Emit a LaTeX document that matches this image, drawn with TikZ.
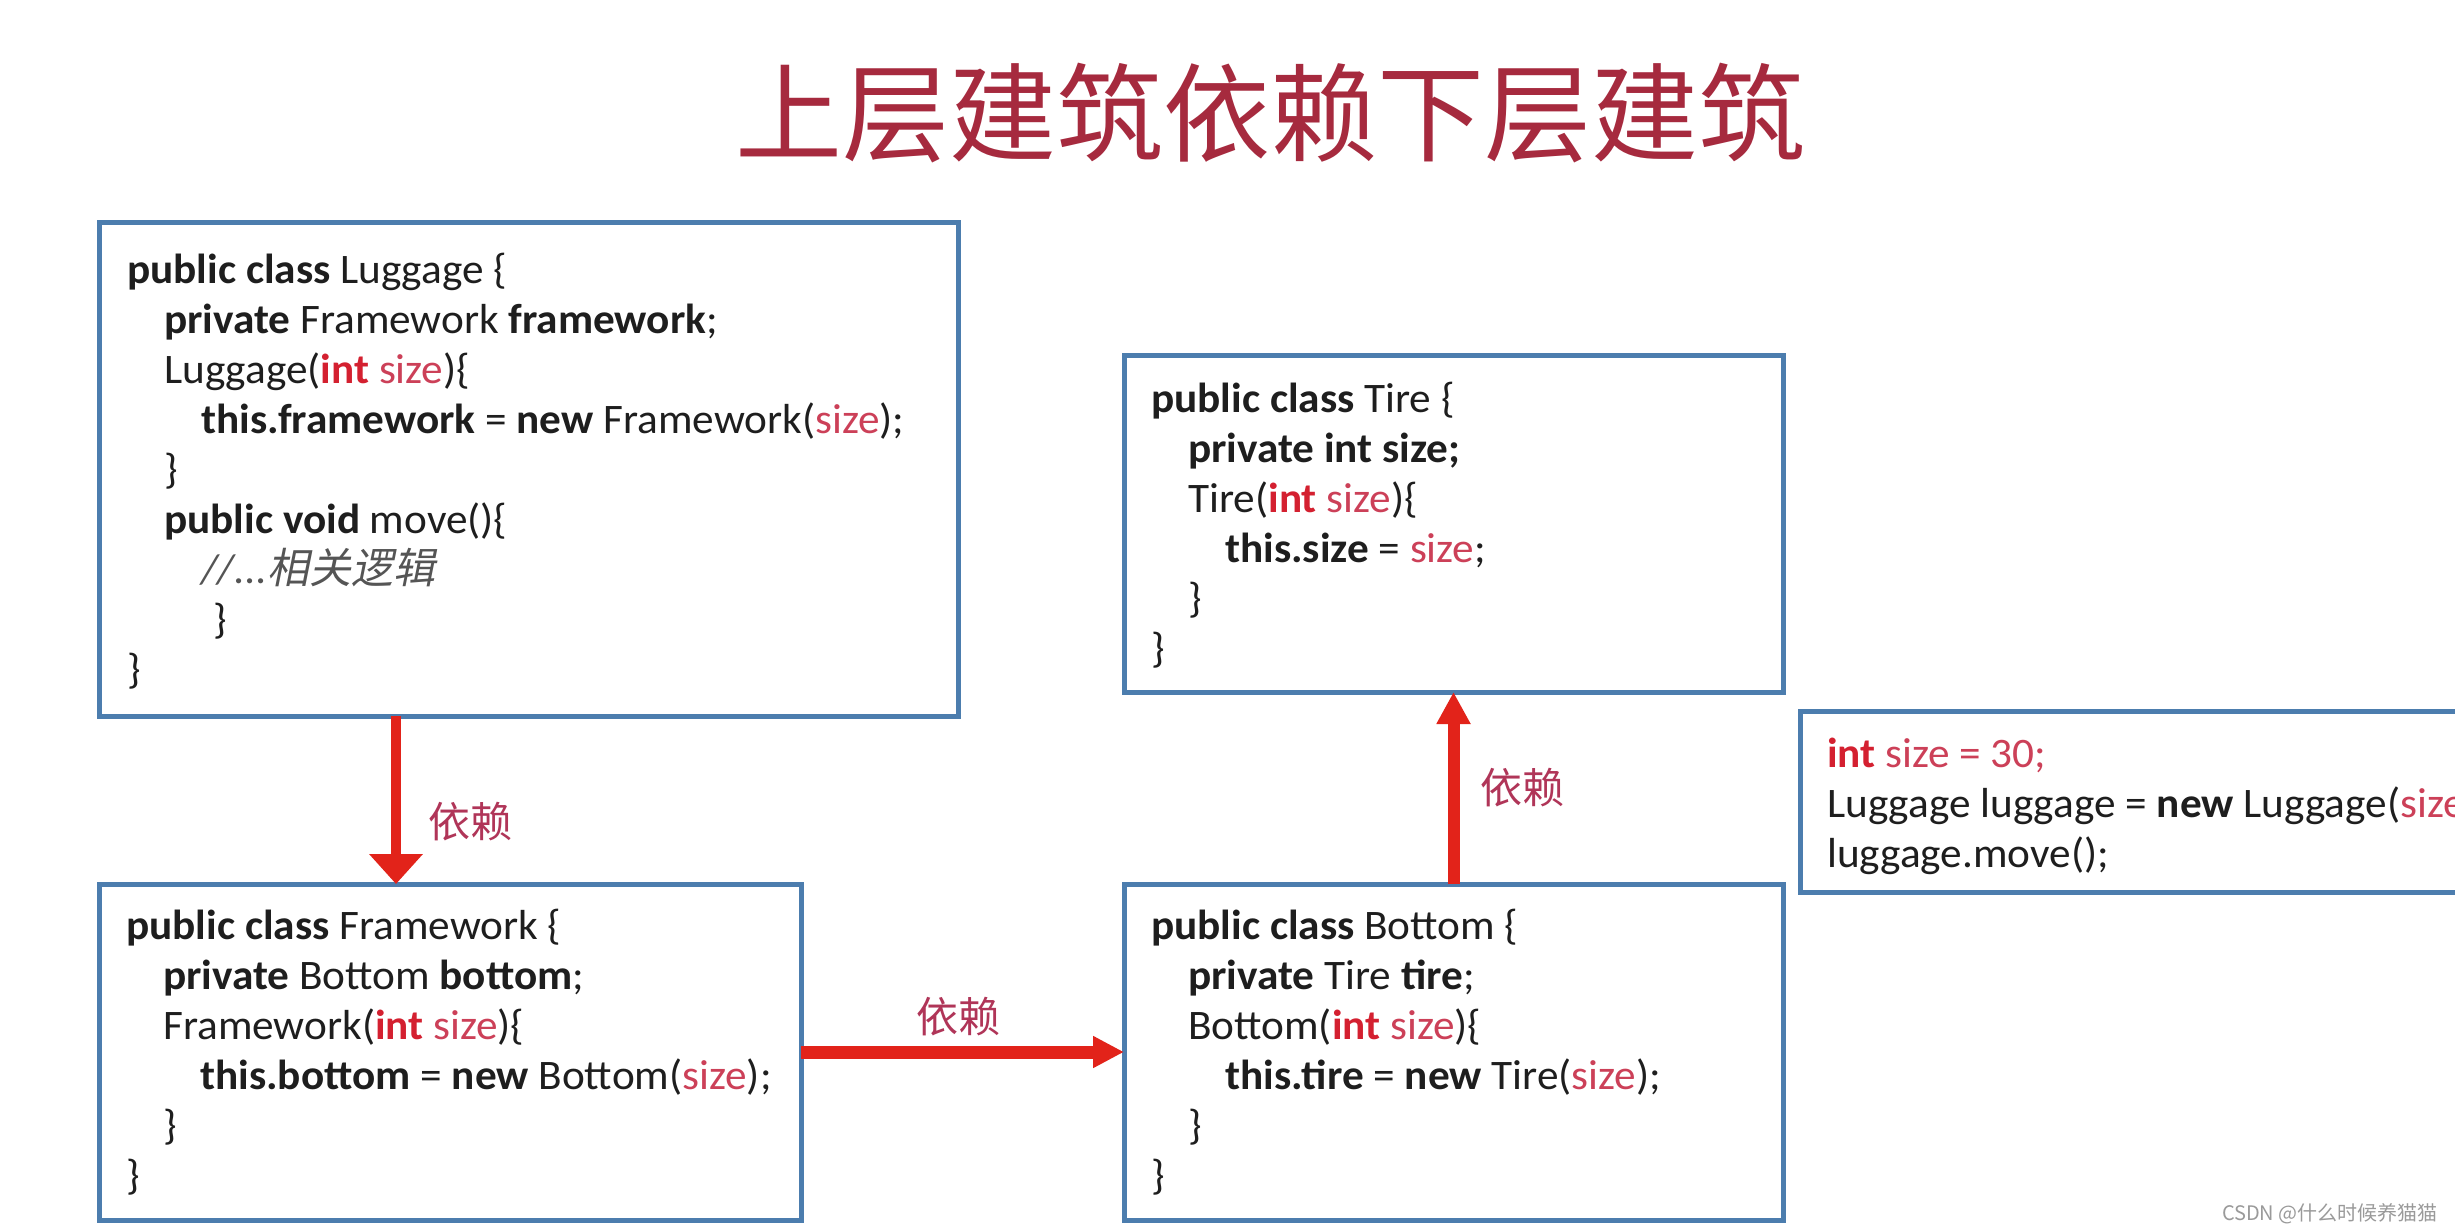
\documentclass[tikz,border=0pt]{standalone}
\usepackage{fontspec}
\usetikzlibrary{arrows.meta}
\setmainfont{Carlito}[FakeStretch=1.03]
\newfontfamily\cjk{Noto Sans CJK SC}
\newfontfamily\cjkit[FakeSlant=0.2]{Noto Sans CJK SC}
\definecolor{boxblue}{HTML}{4C7DAE}
\definecolor{arrowred}{HTML}{E2231A}
\definecolor{labelred}{HTML}{B03558}
\definecolor{titlered}{HTML}{A62A3E}
\definecolor{intred}{HTML}{D42030}
\definecolor{szred}{HTML}{CC4058}
\definecolor{codeblack}{HTML}{1E1E1E}
\definecolor{commentgray}{HTML}{555555}
\definecolor{markgray}{HTML}{9A9A9A}
\newcommand\codefont{\fontsize{42}{50}\selectfont}
\newcommand\kw[1]{\textbf{#1}}
\newcommand\rint{\textcolor{intred}{\textbf{int}}}
\newcommand\rsz{\textcolor{szred}{size}}
\newcommand\inA{\hspace*{37pt}}
\newcommand\inB{\hspace*{74pt}}
\tikzset{
  box/.style={draw=boxblue, line width=5pt, fill=white, rectangle, inner sep=0pt, outer sep=0pt},
  code/.style={anchor=north west, inner sep=0pt, align=left, font=\codefont, text=codeblack},
  dep/.style={draw=arrowred, line width=#1},
  deplabel/.style={text=labelred, font=\cjk\fontsize{42}{42}\selectfont, inner sep=0pt},
}
\begin{document}
\begin{tikzpicture}[x=1pt,y=-1pt]
\useasboundingbox (0,0) rectangle (2455,1231);
\clip (0,0) rectangle (2455,1231);
\fill[white] (0,0) rectangle (2455,1231);

% title
\node[text=titlered, font=\cjk\fontsize{107}{107}\selectfont, inner sep=0pt] (title) at (1270,113) {上层建筑依赖下层建筑};

% boxes
\node[box, minimum width=859pt, minimum height=494pt] (lug) at (528.5,469) {};
\node[box, minimum width=659pt, minimum height=337pt] (tire) at (1453.5,523.5) {};
\node[box, minimum width=702pt, minimum height=336pt] (fw) at (450,1052) {};
\node[box, minimum width=659pt, minimum height=336pt] (bot) at (1453.5,1052) {};
\node[box, minimum width=730pt, minimum height=181pt] (main) at (2165,801.5) {};

% code
\node[code] (lugtxt) at (127,248) {\strut\kw{public class} Luggage \{\\
\inA\kw{private} Framework \kw{framework};\\
\inA Luggage(\rint\ \rsz)\{\\
\inB\kw{this.framework} = \kw{new} Framework(\rsz);\\
\inA\}\\
\inA\kw{public void} move()\{\\
\inB{\color{commentgray}\itshape //...{\cjkit 相关逻辑}}\\
\hspace*{86pt}\}\\
\}};

\node[code] (tiretxt) at (1151,377) {\strut\kw{public class} Tire \{\\
\inA\kw{private int size;}\\
\inA Tire(\rint\ \rsz)\{\\
\inB\kw{this.size} = \rsz;\\
\inA\}\\
\}};

\node[code] (fwtxt) at (126,904) {\strut\kw{public class} Framework \{\\
\inA\kw{private} Bottom \kw{bottom};\\
\inA Framework(\rint\ \rsz)\{\\
\inB\kw{this.bottom} = \kw{new} Bottom(\rsz);\\
\inA\}\\
\}};

\node[code] (bottxt) at (1151,904) {\strut\kw{public class} Bottom \{\\
\inA\kw{private} Tire \kw{tire};\\
\inA Bottom(\rint\ \rsz)\{\\
\inB\kw{this.tire} = \kw{new} Tire(\rsz);\\
\inA\}\\
\}};

\node[code] (maintxt) at (1827,732) {\strut\rint\ \textcolor{szred}{size = 30;}\\
Luggage luggage = \kw{new} Luggage(\rsz);\\
luggage.move();};

% arrows
\coordinate (ax) at (396,0);
\draw[dep=10pt, -{Triangle[width=52pt,length=30pt]}] (ax |- lug.south) -- (ax |- fw.north);
\draw[dep=13pt, -{Triangle[width=30pt,length=31pt]}] (fw.east) -- (bot.west);
\draw[dep=12pt, -{Triangle[width=32pt,length=32pt]}] (bot.north) -- (tire.south);

\node[deplabel] (l1) at (470,822) {依赖};
\node[deplabel] (l2) at (958,1017) {依赖};
\node[deplabel] (l3) at (1522,788) {依赖};

% watermark
\node[text=markgray, font=\cjk\fontsize{20}{20}\selectfont, inner sep=0pt, anchor=base east] (mark) at (2438,1220) {CSDN @什么时候养猫猫};
\end{tikzpicture}
\end{document}
